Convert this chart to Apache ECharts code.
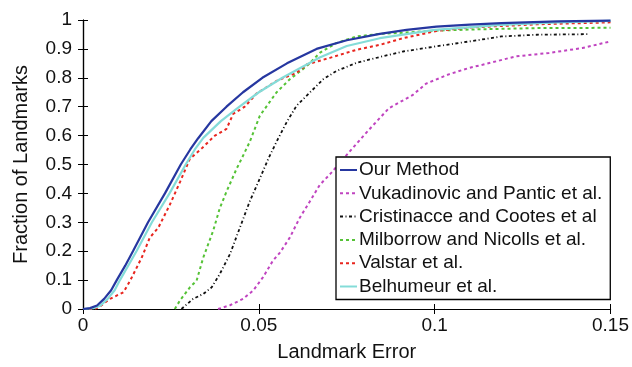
<!DOCTYPE html>
<html>
<head>
<meta charset="utf-8">
<script src="https://cdn.jsdelivr.net/npm/echarts@6/dist/echarts.min.js"></script>
<style>html,body{margin:0;padding:0;background:#fff}#c{width:632px;height:367px}</style>
</head>
<body>
<div id="c"></div>
<script>
const seriesNames = ["Our Method","Vukadinovic and Pantic et al.","Cristinacce and Cootes et al","Milborrow and Nicolls et al.","Valstar et al.","Belhumeur et al."];
const xTicks = [0, 0.05, 0.1, 0.15];
const yTicks = [0,0.1,0.2,0.3,0.4,0.5,0.6,0.7,0.8,0.9,1];

const ourX = [0,0.002,0.004,0.006,0.008,0.0096,0.012,0.0142,0.0185,0.0233,0.0278,0.0305,0.0327,0.0365,0.0408,0.0455,0.051,0.058,0.0664,0.075,0.0844,0.092,0.1005,0.11,0.119,0.135,0.15];
const ourY = [0,0.003,0.012,0.035,0.065,0.1,0.15,0.2,0.3,0.4,0.5,0.552,0.59,0.65,0.7,0.75,0.8,0.85,0.9,0.93,0.952,0.966,0.977,0.984,0.989,0.995,0.998];

const vukX = [0.0384,0.0418,0.0455,0.0484,0.0512,0.054,0.056,0.0588,0.0616,0.0645,0.0673,0.0705,0.0757,0.0813,0.087,0.0937,0.0976,0.104,0.11,0.1136,0.123,0.1325,0.142,0.15];
const vukY = [0,0.013,0.035,0.064,0.11,0.167,0.195,0.247,0.315,0.372,0.429,0.47,0.543,0.62,0.695,0.74,0.78,0.812,0.835,0.845,0.874,0.886,0.903,0.926];

const criX = [0.028,0.0313,0.0342,0.0366,0.0389,0.0418,0.0446,0.0474,0.0503,0.0527,0.055,0.0579,0.0607,0.0645,0.0683,0.072,0.0778,0.0844,0.091,0.1005,0.11,0.119,0.129,0.144];
const criY = [0,0.035,0.052,0.075,0.121,0.19,0.281,0.372,0.452,0.52,0.578,0.646,0.703,0.749,0.795,0.823,0.852,0.872,0.891,0.909,0.926,0.943,0.949,0.951];

const milX = [0.0261,0.0276,0.0304,0.0323,0.0342,0.037,0.0389,0.0408,0.0437,0.0451,0.0474,0.0503,0.055,0.0588,0.0636,0.0673,0.072,0.0778,0.0844,0.091,0.1,0.11,0.129,0.15];
const milY = [0,0.03,0.075,0.098,0.178,0.27,0.349,0.406,0.486,0.52,0.578,0.669,0.749,0.795,0.84,0.886,0.92,0.943,0.952,0.956,0.963,0.967,0.972,0.973];

const valX = [0,0.0034,0.0048,0.0077,0.0115,0.0134,0.0167,0.019,0.0214,0.0247,0.0276,0.0304,0.0337,0.0375,0.0408,0.0427,0.046,0.0493,0.055,0.0607,0.0636,0.0702,0.0778,0.0844,0.091,0.1005,0.11,0.129,0.15];
const valY = [0,0,0.009,0.035,0.058,0.098,0.178,0.247,0.281,0.361,0.44,0.52,0.555,0.6,0.623,0.675,0.7,0.745,0.789,0.817,0.846,0.869,0.897,0.914,0.937,0.962,0.974,0.985,0.992];

const belX = [0,0.003,0.005,0.007,0.009,0.0105,0.0152,0.0196,0.0246,0.0292,0.0318,0.0342,0.0392,0.0445,0.05,0.0567,0.0673,0.075,0.0844,0.1,0.119,0.135,0.15];
const belY = [0,0.003,0.012,0.035,0.065,0.1,0.2,0.3,0.4,0.5,0.552,0.592,0.65,0.7,0.75,0.8,0.87,0.91,0.937,0.966,0.983,0.992,0.997];

const zip = (xs, ys) => xs.map((x, i) => [x, ys[i]]);
const FONT = 'Liberation Sans, Arial, Helvetica, sans-serif';
const fmt = v => String(+(+v).toFixed(3));

const styles = [
  {color:'#2637a0', type:'solid', width:2.2, z:10},
  {color:'#c044c0', type:[3,3], width:2, z:3},
  {color:'#111111', type:[3,2.5,1,2.5], width:1.8, z:3},
  {color:'#55c236', type:[3,3], width:2, z:3},
  {color:'#e8251e', type:[3,3], width:2, z:4},
  {color:'#84dcd8', type:'solid', width:2.2, z:5}
];
const dataSets = [zip(ourX,ourY), zip(vukX,vukY), zip(criX,criY), zip(milX,milY), zip(valX,valY), zip(belX,belY)];

const chart = echarts.init(document.getElementById('c'), null, {renderer:'canvas'});
chart.setOption({
  animation: false,
  backgroundColor: '#ffffff',
  textStyle: {fontFamily: FONT},
  grid: {left: 83, right: 21, top: 20, bottom: 55},
  legend: {
    orient: 'vertical',
    left: 336, top: 157,
    padding: [3, 8, 3, 3],
    itemWidth: 17, itemHeight: 12, itemGap: 3.3,
    backgroundColor: '#ffffff',
    borderColor: '#000000', borderWidth: 1.3, borderRadius: 0,
    itemStyle: {opacity: 0},
    textStyle: {fontFamily: FONT, fontSize: 19, color: '#111', lineHeight: 20, padding:[0,0,0,-3]},
    data: seriesNames
  },
  xAxis: [{
    type: 'value', min: 0, max: 0.15, interval: 0.05,
    name: 'Landmark Error', nameLocation: 'middle', nameGap: 33,
    nameTextStyle: {fontFamily: FONT, fontSize: 20, color: '#111'},
    axisLine: {show: true, lineStyle: {color: '#000', width: 1.2}},
    axisTick: {show: true, inside: true, length: 5, lineStyle: {color: '#000'}},
    axisLabel: {fontFamily: FONT, fontSize: 19, color: '#111', margin: 7, showMaxLabel: true, showMinLabel: true, formatter: fmt},
    splitLine: {show: false}
  }, {
    type: 'value', min: 0, max: 0.15, interval: 0.05, position: 'top',
    axisLine: {show: true, lineStyle: {color: '#000', width: 1.2}},
    axisTick: {show: true, inside: true, length: 5, lineStyle: {color: '#000'}},
    axisLabel: {show: false}, splitLine: {show: false}
  }],
  yAxis: [{
    type: 'value', min: 0, max: 1, interval: 0.1,
    name: 'Fraction of Landmarks', nameLocation: 'middle', nameGap: 52,
    nameTextStyle: {fontFamily: FONT, fontSize: 20, color: '#111'},
    axisLine: {show: true, lineStyle: {color: '#000', width: 1.2}},
    axisTick: {show: true, inside: true, length: 5, lineStyle: {color: '#000'}},
    axisLabel: {fontFamily: FONT, fontSize: 19, color: '#111', margin: 11, formatter: fmt},
    splitLine: {show: false}
  }, {
    type: 'value', min: 0, max: 1, interval: 0.1, position: 'right',
    axisLine: {show: true, lineStyle: {color: '#000', width: 1.2}},
    axisTick: {show: true, inside: true, length: 5, lineStyle: {color: '#000'}},
    axisLabel: {show: false}, splitLine: {show: false}
  }],
  series: seriesNames.map((n, i) => ({
    name: n, type: 'line', xAxisIndex: 0, yAxisIndex: 0,
    data: dataSets[i], showSymbol: false, symbol: 'none', smooth: false,
    z: styles[i].z,
    color: styles[i].color,
    lineStyle: {color: styles[i].color, type: styles[i].type, width: styles[i].width},
    emphasis: {disabled: true}
  }))
});
</script>
</body>
</html>
